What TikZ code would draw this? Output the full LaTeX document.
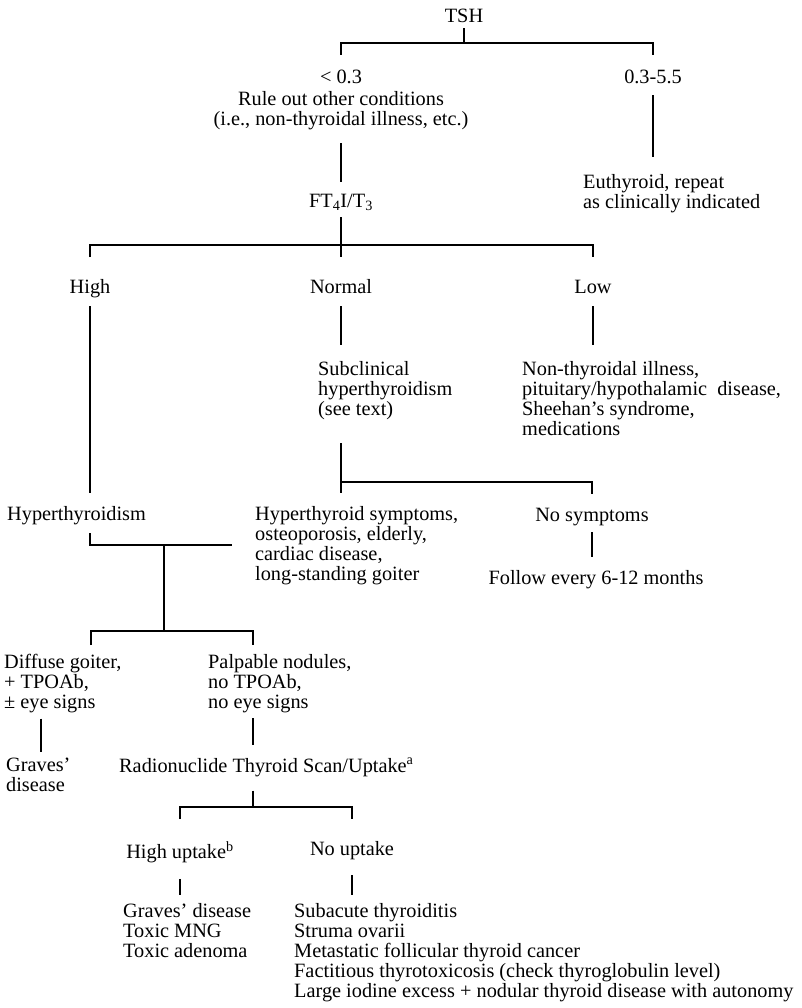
\documentclass[tikz,border=0pt]{standalone}
\usepackage{fontspec}
\setmainfont{Liberation Serif}
\begin{document}
\fontsize{20.3pt}{20pt}\selectfont
\begin{tikzpicture}[x=1pt,y=-1pt,
  lbl/.style={inner sep=0pt, execute at begin node=\strut, execute at end node=\strut, anchor=north},
  lblC/.style={lbl, align=center},
  lblL/.style={lbl, anchor=north west, align=left},
  link/.style={line width=1.2pt, line cap=butt}]
\useasboundingbox (0,0) rectangle (801,1008);

% ---- text blocks ----
\node[lblC] (tsh) at (464,8) {TSH};
\node[lblC] (lt)  at (341,69) {< 0.3};
\node[lblC] (nr)  at (653,69) {0.3-5.5};
\node[lblC] (rule) at (341,91) {Rule out other conditions\\(i.e., non-thyroidal illness, etc.)};
\node[lblC] (ft)  at (341,193) {FT\textsubscript{4}I/T\textsubscript{3}};
\node[lblL] (eu)  at (583,174) {Euthyroid, repeat\\as clinically indicated};
\node[lblC] (hi)  at (90,279) {High};
\node[lblC] (no)  at (341,279) {Normal};
\node[lblC] (lw)  at (593,279) {Low};
\node[lblL] (sub) at (318,361) {Subclinical\\hyperthyroidism\\(see text)};
\node[lblL] (ntl) at (522,361) {Non-thyroidal illness,\\pituitary/hypothalamic\ \ disease,\\Sheehan’s syndrome,\\medications};
\node[lblL] (hyp) at (7,506) {Hyperthyroidism};
\node[lblL] (sym) at (255,506) {Hyperthyroid symptoms,\\osteoporosis, elderly,\\cardiac disease,\\long-standing goiter};
\node[lblC] (nos) at (592,507) {No symptoms};
\node[lblC] (fol) at (596,570) {Follow every 6-12 months};
\node[lblL] (dif) at (4,654) {Diffuse goiter,\\+ TPOAb,\\± eye signs};
\node[lblL] (pal) at (208,654) {Palpable nodules,\\no TPOAb,\\no eye signs};
\node[lblL] (gra) at (6,758) {Graves’\\disease};
\node[lblL] (rad) at (119,758) {Radionuclide Thyroid Scan/Uptake\textsuperscript{a}};
\node[lblC] (hup) at (180,841) {High uptake\textsuperscript{b}};
\node[lblC] (nup) at (352,841) {No uptake};
\node[lblL] (hlist) at (123,903) {Graves’ disease\\Toxic MNG\\Toxic adenoma};
\node[lblL] (nlist) at (294,903) {Subacute thyroiditis\\Struma ovarii\\Metastatic follicular thyroid cancer\\Factitious thyrotoxicosis (check thyroglobulin level)\\Large iodine excess + nodular thyroid disease with autonomy};

% ---- junction points ----
\coordinate (j1) at (464,43);
\coordinate (j2) at (341,245);
\coordinate (j3) at (341,482);
\coordinate (j4) at (164,545);
\coordinate (j4r) at (232,545);
\coordinate (j5) at (164,631);
\coordinate (d1) at (91,645);
\coordinate (d2) at (253,645);
\coordinate (d3) at (41,700);
\coordinate (j6) at (253,807);

% ---- connectors ----
\draw[link] (tsh.south) -- (j1);
\draw[link] ([yshift=14pt]lt.north) -- (lt.north |- j1) -- (nr.north |- j1) -- ([yshift=14pt]nr.north);
\draw[link] ([yshift=-6pt]nr.south) -- ([yshift=17pt]nr.south |- eu.north);
\draw[link] ([yshift=-12pt]rule.south) -- ([yshift=11pt]ft.north);
\draw[link] ([yshift=-4pt]ft.south) -- ([yshift=22pt]no.north);
\draw[link] ([yshift=22pt]hi.north) -- (hi.north |- j2) -- (lw.north |- j2) -- ([yshift=22pt]lw.north);

\draw[link] ([yshift=-7pt]hi.south) -- ([yshift=13pt]hi.south |- hyp.north);
\draw[link] ([yshift=-7pt]no.south) -- ([yshift=16pt]no.south |- sub.north);
\draw[link] ([yshift=-7pt]lw.south) -- ([yshift=16pt]lw.south |- ntl.north);

\draw[link] ([yshift=-22pt]no.south |- sub.south) -- ([yshift=13pt]no.south |- sym.north);
\draw[link] (j3) -- (nos.north |- j3) -- ([yshift=13pt]nos.north);
\draw[link] ([yshift=-5pt]nos.south) -- ([yshift=13pt]nos.south |- fol.north);

\draw[link] ([yshift=-7pt]hi.south |- hyp.south) -- (hi.south |- j4) -- (j4r);
\draw[link] (j4) -- (j5);
\draw[link] (d1) -- (d1 |- j5) -- (d2 |- j5) -- (d2);
\draw[link] ([yshift=-4pt]d3 |- dif.south) -- ([yshift=6pt]d3 |- gra.north);
\draw[link] ([yshift=-4pt]d2 |- pal.south) -- ([yshift=13pt]d2 |- rad.north);

\draw[link] ([yshift=-12pt]d2 |- rad.south) -- (j6);
\draw[link] ([yshift=22pt]hup.north) -- (hup.north |- j6) -- (nup.north |- j6) -- ([yshift=22pt]nup.north);
\draw[link] ([yshift=-14pt]hup.south) -- ([yshift=8pt]hup.south |- hlist.north);
\draw[link] ([yshift=-14pt]nup.south) -- ([yshift=8pt]nup.south |- nlist.north);
\end{tikzpicture}
\end{document}
